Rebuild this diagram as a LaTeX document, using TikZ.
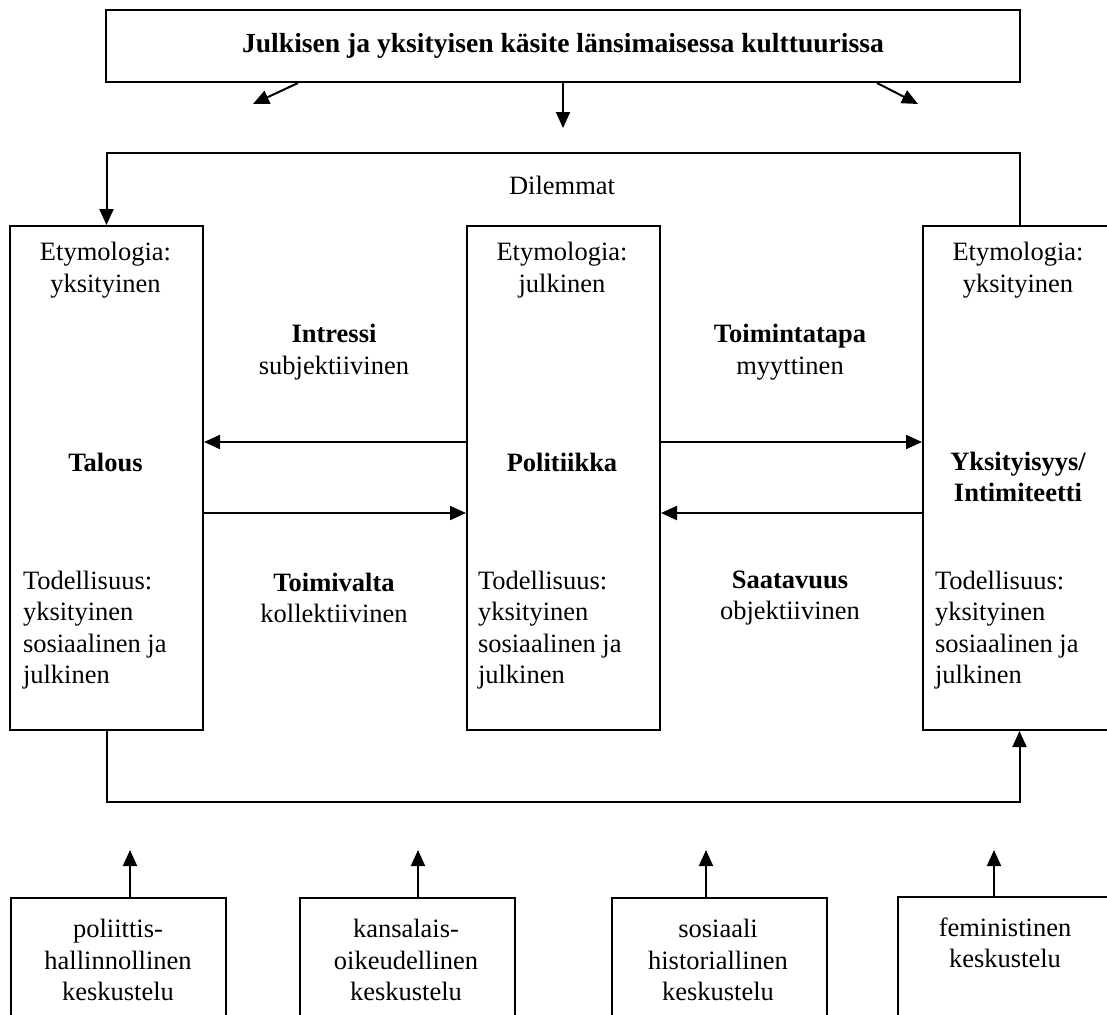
\documentclass[tikz,border=0pt]{standalone}
\usepackage{fontspec}
\setmainfont{Liberation Serif}
\usetikzlibrary{calc,arrows.meta}

\begin{document}
\begin{tikzpicture}[x=0.5pt, y=-0.5pt, line width=1pt, >={Triangle[length=8pt,width=7pt]},
  box/.style={rectangle, draw, inner sep=0pt, anchor=north west},
  col/.style={box, minimum width=96.5pt, minimum height=252pt},
  foot/.style={box, minimum width=107.5pt, minimum height=80pt},
  txt/.style={align=center, inner sep=0pt, font=\fontsize{13.25}{15.75}\selectfont},
  lefttxt/.style={txt, align=left, anchor=west}]
  \useasboundingbox (0,0) rectangle (1107,1014);
  \clip (0,0) rectangle (1107,1014);
  \node[box, minimum width=457pt, minimum height=36pt, font=\fontsize{13.8}{16}\selectfont\bfseries] (top) at (105,9) {Julkisen ja yksityisen käsite länsimaisessa kulttuurissa};
  \node[col] (lcol) at (9,225) {};
  \node[col] (mcol) at (466,225) {};
  \node[col] (rcol) at (922,225) {};
  \node[foot] (b1) at (10,897) {};
  \node[foot] (b2) at (299,897) {};
  \node[foot] (b3) at (611,897) {};
  \node[foot] (b4) at (897,896) {};
  \coordinate (tl) at (253,104);
  \coordinate (tm) at (562,128);
  \coordinate (tr) at (918,104);
  \coordinate (dtop) at (562,153);
  \coordinate (dbot) at (562,802);
  \coordinate (u) at (0,442);
  \coordinate (d) at (0,513);
  \coordinate (p1) at (130,850);
  \coordinate (p2) at (418,850);
  \coordinate (p3) at (706,850);
  \coordinate (p4) at (994,850);
  \draw[->] ($(top.south west)+(193,0)$) -- (tl);
  \draw[->] (top.south) -- (top.south |- tm);
  \draw[->] ($(top.south east)+(-144,0)$) -- (tr);
  \draw[->] (rcol.north) |- (dtop) -| (lcol.north);
  \draw[->] (lcol.south) |- (dbot) -| (rcol.south);
  \draw[->] (mcol.west |- u) -- (lcol.east |- u);
  \draw[->] (lcol.east |- d) -- (mcol.west |- d);
  \draw[->] (mcol.east |- u) -- (rcol.west |- u);
  \draw[->] (rcol.west |- d) -- (mcol.east |- d);
  \draw[->] (b1.north -| p1) -- (p1);
  \draw[->] (b2.north -| p2) -- (p2);
  \draw[->] (b3.north -| p3) -- (p3);
  \draw[->] (b4.north -| p4) -- (p4);
  \node[txt] (dil) at (562,185) {Dilemmat};
  \node[txt] (e1) at (105.5,270) {Etymologia:\\yksityinen};
  \node[txt] (e2) at (562,270) {Etymologia:\\julkinen};
  \node[txt] (e3) at (1018,270) {Etymologia:\\yksityinen};
  \node[txt] (int) at (334,352) {\textbf{Intressi}\\subjektiivinen};
  \node[txt] (toim) at (790,352) {\textbf{Toimintatapa}\\myyttinen};
  \node[txt, font=\fontsize{13.25}{15.75}\selectfont\bfseries] (tal) at (105.5,462) {Talous};
  \node[txt, font=\fontsize{13.25}{15.75}\selectfont\bfseries] (pol) at (562,462) {Politiikka};
  \node[txt, font=\fontsize{13.25}{15.75}\selectfont\bfseries] (yks) at (1018,477) {Yksityisyys/\\Intimiteetti};
  \node[txt] (val) at (334,598) {\textbf{Toimivalta}\\kollektiivinen};
  \node[txt] (saa) at (790,598) {\textbf{Saatavuus}\\objektiivinen};
  \node[lefttxt] (t1) at (22,630) {Todellisuus:\\yksityinen\\sosiaalinen ja\\julkinen};
  \node[lefttxt] (t2) at (477,630) {Todellisuus:\\yksityinen\\sosiaalinen ja\\julkinen};
  \node[lefttxt] (t3) at (934,630) {Todellisuus:\\yksityinen\\sosiaalinen ja\\julkinen};
  \node[txt] (k1) at (118,960) {poliittis-\\hallinnollinen\\keskustelu};
  \node[txt] (k2) at (406,960) {kansalais-\\oikeudellinen\\keskustelu};
  \node[txt] (k3) at (718,960) {sosiaali\\historiallinen\\keskustelu};
  \node[txt] (k4) at (1005,943) {feministinen\\keskustelu};
\end{tikzpicture}
\end{document}
